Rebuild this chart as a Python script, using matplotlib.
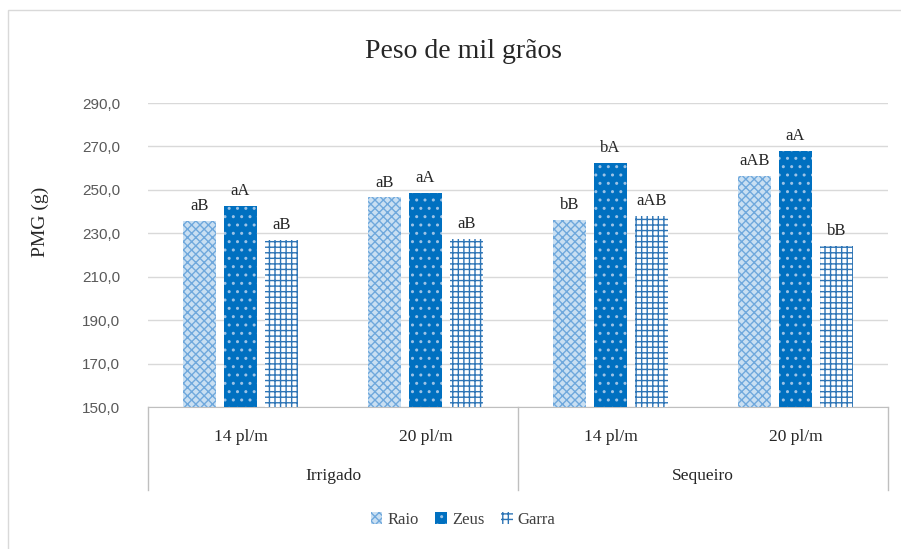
import numpy as np
import matplotlib
matplotlib.use("Agg")
import matplotlib.pyplot as plt
from matplotlib.patches import Rectangle
import matplotlib.transforms as mtransforms

# dados
sistemas = ["Irrigado", "Sequeiro"]
densidades = ["14 pl/m", "20 pl/m", "14 pl/m", "20 pl/m"]
cultivares = ["Raio", "Zeus", "Garra"]

raio = [235.5, 246.5, 236.0, 256.5]
zeus = [242.5, 248.5, 262.5, 268.0]
garra = [227.0, 227.5, 238.0, 224.0]

letras_raio = ["aB", "aB", "bB", "aAB"]
letras_zeus = ["aA", "aA", "bA", "aA"]
letras_garra = ["aB", "aB", "aAB", "bB"]

serif = "Liberation Serif"
W, H = 901, 549

fig = plt.figure(figsize=(W / 100, H / 100), dpi=100)
fig.patch.set_facecolor("white")

# moldura do grafico (cortada a direita e embaixo como na figura original)
fig.patches.append(Rectangle((8 / W, -0.1), 1.2, 1.1 - 10 / H, transform=fig.transFigure,
                             fill=False, edgecolor="#D9D9D9", linewidth=1))

ax = fig.add_axes([148 / W, (H - 407) / H, (888 - 148) / W, (407 - 103) / H])

x = np.arange(len(densidades))
w = 0.178
step = 0.222

b1 = ax.bar(x - step, raio, w, color="#C9DFF2", edgecolor="#6FA8DC", hatch="xxxx", linewidth=0, zorder=3)
b2 = ax.bar(x, zeus, w, color="#0070C0", edgecolor="#9DC3E6", hatch="..", linewidth=0, zorder=3)
b3 = ax.bar(x + step, garra, w, color="white", edgecolor="#2E75B6", hatch="+++", linewidth=0, zorder=3)

for bars, letras in [(b1, letras_raio), (b2, letras_zeus), (b3, letras_garra)]:
    for b, t in zip(bars, letras):
        ax.annotate(t, (b.get_x() + b.get_width() / 2, b.get_height()),
                    xytext=(0, 5), textcoords="offset points", ha="center", va="bottom",
                    fontsize=12, family=serif, color="#262626")

ax.set_ylim(150, 290)
ax.set_xlim(-0.5, 3.5)
ax.set_yticks(np.arange(150, 291, 20))
ax.set_yticklabels([f"{v:.1f}".replace(".", ",") for v in np.arange(150, 291, 20)],
                   fontsize=11, color="#595959", family="Liberation Sans")
ax.tick_params(axis="y", length=0, pad=20)
ax.tick_params(axis="x", length=0, labelbottom=False)
ax.grid(axis="y", color="#D9D9D9", linewidth=1, zorder=0)
for s in ["top", "right", "left"]:
    ax.spines[s].set_visible(False)
ax.spines["bottom"].set_color("#BFBFBF")

fig.text(40 / W, 1 - 222 / H, "PMG (g)", fontsize=14, family=serif, color="#262626",
         rotation=90, ha="center", va="center")
fig.text(463 / W, 1 - 52 / H, "Peso de mil grãos", fontsize=20, family=serif,
         ha="center", va="center", color="#262626")

# eixo de categorias em dois niveis
trans = mtransforms.blended_transform_factory(ax.transData, ax.transAxes)
for xv in [-0.5, 1.5, 3.5]:
    ax.plot([xv, xv], [0, -0.273], transform=trans, color="#BFBFBF", linewidth=1, clip_on=False)
for i, d in enumerate(densidades):
    ax.text(x[i], -0.10, d, transform=trans, ha="center", va="center",
            fontsize=12.5, family=serif, color="#262626")
for i, s in enumerate(sistemas):
    ax.text(0.5 + 2 * i, -0.228, s, transform=trans, ha="center", va="center",
            fontsize=12.5, family=serif, color="#262626")

leg = fig.legend([b1, b2, b3], cultivares, loc="center", bbox_to_anchor=(463 / W, 1 - 520 / H),
                 ncol=3, frameon=False, handlelength=0.7, handleheight=0.7, handletextpad=0.3,
                 columnspacing=1.0, fontsize=12)
for t in leg.get_texts():
    t.set_family(serif)
    t.set_color("#404040")

fig.savefig("out.png", dpi=100)
